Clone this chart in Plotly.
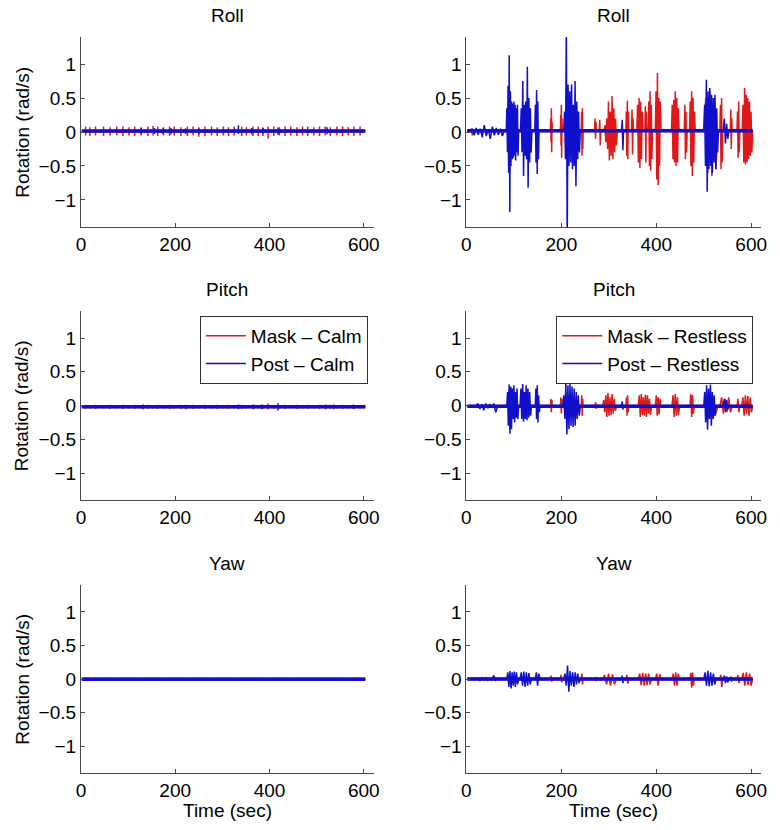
import numpy as np
import plotly.graph_objects as go

# ---------------- data ----------------
RED = "#e01818"
BLUE = "#1010cc"
FONT = "Liberation Sans, Arial, Helvetica, sans-serif"

time_start, time_end = 2, 603
x_ticks = [0, 200, 400, 600]
y_ticks = [-1, -0.5, 0, 0.5, 1]
y_tick_text = ["\u22121", "\u22120.5", "0", "0.5", "1"]
panel_titles = ["Roll", "Roll", "Pitch", "Pitch", "Yaw", "Yaw"]
legend_calm = ["Mask \u2013 Calm", "Post \u2013 Calm"]
legend_restless = ["Mask \u2013 Restless", "Post \u2013 Restless"]

# regular small ticks of the calm recordings (seconds)
calm_tick_t = [10, 19, 31, 48, 62, 76, 89, 102, 114, 128, 142, 153, 163, 175, 188, 198,
               212, 226, 238, 250, 263, 277, 289, 302, 313, 325, 341, 351, 365, 376, 386, 397,
               409, 421, 433, 445, 458, 470, 481, 494, 506, 518, 529, 543, 555, 567, 579, 592]

# ---- Roll, calm
roll_calm_mask_base = 0.01
roll_calm_mask_hi = [0.08, 0.07, 0.08, 0.08, 0.07, 0.08, 0.08, 0.07, 0.08, 0.07, 0.08, 0.09, 0.08, 0.07, 0.08, 0.08,
                     0.07, 0.08, 0.08, 0.07, 0.08, 0.08, 0.07, 0.08, 0.07, 0.08, 0.08, 0.07, 0.08, 0.08, 0.07, 0.08,
                     0.08, 0.07, 0.08, 0.08, 0.07, 0.08, 0.08, 0.07, 0.08, 0.08, 0.07, 0.08, 0.08, 0.07, 0.08, 0.08]
roll_calm_mask_lo = [-0.05, -0.06, -0.05, -0.06, -0.05, -0.05, -0.06, -0.05, -0.06, -0.05, -0.06, -0.05, -0.06, -0.05, -0.06, -0.05,
                     -0.06, -0.06, -0.05, -0.07, -0.06, -0.05, -0.06, -0.05, -0.06, -0.05, -0.06, -0.05, -0.06, -0.06, -0.06, -0.1,
                     -0.06, -0.05, -0.06, -0.05, -0.06, -0.05, -0.06, -0.05, -0.06, -0.05, -0.06, -0.05, -0.06, -0.05, -0.06, -0.05]
roll_calm_post_base = 0.015
roll_calm_post_t = [128, 156, 174, 191, 222, 250, 334, 362, 386, 418, 522]
roll_calm_post_hi = [0.06, 0.06, 0.055, 0.06, 0.055, 0.05, 0.1, 0.06, 0.06, 0.065, 0.07]
roll_calm_post_lo = [-0.03, -0.03, -0.03, -0.035, -0.03, -0.03, -0.03, -0.035, -0.03, -0.04, -0.035]

# ---- Pitch, calm
pitch_calm_mask_base = -0.02
pitch_calm_mask_hi = [0.01, 0.005, 0.01, 0.005, 0.01, 0.005, 0.01, 0.005, 0.01, 0.005, 0.01, 0.005, 0.01, 0.005, 0.01, 0.005,
                      0.01, 0.005, 0.01, 0.005, 0.01, 0.005, 0.01, 0.005, 0.01, 0.005, 0.01, 0.005, 0.01, 0.005, 0.01, 0.03,
                      0.01, 0.005, 0.01, 0.005, 0.01, 0.005, 0.01, 0.005, 0.01, 0.005, 0.01, 0.005, 0.01, 0.005, 0.01, 0.005]
pitch_calm_mask_lo = [-0.05, -0.045, -0.05, -0.045, -0.05, -0.045, -0.05, -0.045, -0.05, -0.045, -0.05, -0.045, -0.05, -0.045, -0.05, -0.045,
                      -0.05, -0.045, -0.05, -0.045, -0.05, -0.045, -0.05, -0.045, -0.05, -0.045, -0.05, -0.045, -0.05, -0.045, -0.05, -0.06,
                      -0.05, -0.045, -0.05, -0.045, -0.05, -0.045, -0.05, -0.045, -0.05, -0.045, -0.05, -0.045, -0.05, -0.045, -0.05, -0.045]
pitch_calm_post_base = -0.02
pitch_calm_post_t = [132, 222, 334, 366, 383, 418, 519, 536, 578]
pitch_calm_post_hi = [0.015, 0.01, 0.015, 0.015, 0.015, 0.035, 0.015, 0.015, 0.01]
pitch_calm_post_lo = [-0.055, -0.055, -0.055, -0.055, -0.055, -0.075, -0.055, -0.055, -0.05]

# ---- Yaw, calm
yaw_calm_mask_base = 0.0
yaw_calm_mask_hi = [0.025, 0.02, 0.025, 0.02, 0.025, 0.02, 0.025, 0.02, 0.025, 0.02, 0.025, 0.02, 0.025, 0.02, 0.025, 0.02,
                    0.025, 0.02, 0.025, 0.02, 0.025, 0.02, 0.025, 0.02, 0.025, 0.02, 0.025, 0.02, 0.025, 0.02, 0.025, 0.02,
                    0.025, 0.02, 0.025, 0.02, 0.025, 0.02, 0.025, 0.02, 0.025, 0.02, 0.025, 0.02, 0.025, 0.02, 0.025, 0.02]
yaw_calm_mask_lo = [-0.025, -0.03, -0.025, -0.03, -0.025, -0.03, -0.025, -0.03, -0.025, -0.03, -0.025, -0.03, -0.025, -0.03, -0.025, -0.03,
                    -0.025, -0.03, -0.025, -0.03, -0.025, -0.03, -0.025, -0.03, -0.025, -0.03, -0.025, -0.03, -0.025, -0.03, -0.025, -0.03,
                    -0.025, -0.03, -0.025, -0.03, -0.025, -0.03, -0.025, -0.03, -0.025, -0.03, -0.025, -0.03, -0.025, -0.03, -0.025, -0.03]
yaw_calm_post_base = -0.005
yaw_calm_post_t = [10, 60, 128, 174, 222, 300, 334, 386, 418, 470, 522, 580]
yaw_calm_post_hi = [0.02, 0.015, 0.02, 0.015, 0.02, 0.015, 0.02, 0.015, 0.02, 0.015, 0.02, 0.015]
yaw_calm_post_lo = [-0.03, -0.025, -0.03, -0.025, -0.03, -0.025, -0.03, -0.025, -0.03, -0.025, -0.03, -0.025]

# ---- Roll, restless  (bursts: start s, end s, successive sample values)
roll_rest_mask_base = 0.02
roll_rest_mask_bursts = [
    (9, 16, [0.05, -0.05, 0.04]),
    (177, 181, [0.2, -0.15, 0.35, -0.3, 0.15]),
    (198, 202, [0.25, -0.2, 0.4, -0.38, 0.2]),
    (242, 246, [0.3, -0.35, 0.35, -0.25]),
    (270, 274, [0.2, -0.1, 0.15]),
    (280, 283, [0.18, -0.2]),
    (290, 318, [0.1, -0.15, 0.2, -0.25, 0.45, -0.42, 0.3, -0.35, 0.53, -0.4, 0.35, -0.3, 0.2, -0.2]),
    (336, 342, [0.3, -0.35, 0.46, -0.4, 0.3]),
    (348, 352, [0.33, -0.33, 0.2]),
    (359, 372, [0.4, -0.45, 0.5, -0.53, 0.45, -0.4, 0.3]),
    (376, 380, [0.38, -0.45, 0.3]),
    (383, 392, [0.45, -0.5, 0.6, -0.57, 0.4, -0.4]),
    (398, 410, [0.6, -0.7, 0.87, -0.78, 0.5, -0.5, 0.45]),
    (432, 448, [0.4, -0.4, 0.47, -0.45, 0.6, -0.5, 0.5, -0.45, 0.35]),
    (459, 465, [0.4, -0.4, 0.3, -0.3]),
    (470, 482, [0.45, -0.5, 0.6, -0.65, 0.5, -0.45, 0.3]),
    (500, 530, [0.5, -0.6, 0.6, -0.65, 0.5, -0.55]),
    (534, 540, [0.4, -0.55, 0.5, -0.45]),
    (556, 560, [0.33, -0.25, 0.2]),
    (570, 576, [0.3, -0.38, 0.45, -0.3]),
    (581, 603, [0.4, -0.45, 0.65, -0.48, 0.55, -0.45, 0.5, -0.4, 0.45, -0.35, 0.3, -0.3]),
]
roll_rest_post_base = 0.02
roll_rest_post_bursts = [
    (8, 80, [0.04, -0.05, 0.06, -0.04, 0.05, -0.08, 0.1, -0.06, 0.04, -0.1, 0.08, -0.05, 0.06, -0.04, 0.05, -0.06]),
    (84, 110, [0.35, -0.3, 0.68, -0.6, 1.13, -1.18, 0.6, -0.5, 0.45, -0.4, 0.42, -0.38, 0.45, -0.35, 0.4, -0.42, 0.35, -0.3, 0.4, -0.35]),
    (114, 138, [0.35, -0.3, 0.75, -0.65, 0.4, -0.35, 0.45, -0.4, 0.96, -0.82, 0.5, -0.45, 0.35, -0.3]),
    (144, 153, [0.4, -0.45, 0.62, -0.62, 0.45, -0.4]),
    (205, 240, [0.3, -0.4, 1.6, -1.6, 0.7, -0.5, 0.6, -0.45, 0.7, -0.55, 0.4, -0.5, 0.75, -0.8, 0.45, -0.4, 0.3, -0.3]),
    (327, 331, [0.18, -0.27]),
    (500, 531, [0.4, -0.5, 0.77, -0.88, 0.6, -0.55, 0.65, -0.5, 0.55, -0.6, 0.5, -0.45, 0.55, -0.55, 0.35, -0.3]),
    (541, 553, [0.2, -0.17, 0.12, -0.1]),
]

# ---- Pitch, restless
pitch_rest_mask_base = -0.01
pitch_rest_mask_bursts = [
    (177, 181, [0.1, -0.1, 0.08]),
    (198, 202, [0.12, -0.12, 0.1]),
    (242, 246, [0.15, -0.15, 0.1]),
    (271, 275, [0.05, -0.05]),
    (287, 316, [0.08, -0.1, 0.15, -0.17, 0.19, -0.15, 0.12, -0.14, 0.17, -0.12, 0.1, -0.08]),
    (336, 342, [0.12, -0.15, 0.15, -0.1]),
    (362, 390, [0.15, -0.17, 0.17, -0.14, 0.12, -0.15, 0.16, -0.17, 0.15, -0.12, 0.1, -0.14]),
    (398, 410, [0.15, -0.15, 0.12, -0.13, 0.1]),
    (433, 449, [0.15, -0.17, 0.17, -0.15, 0.12, -0.14]),
    (471, 480, [0.17, -0.17, 0.15, -0.12]),
    (500, 530, [0.15, -0.2, 0.12, -0.15]),
    (534, 560, [0.12, -0.12, 0.1, -0.1, 0.12, -0.1]),
    (570, 576, [0.1, -0.1]),
    (580, 603, [0.12, -0.15, 0.15, -0.13, 0.14, -0.15, 0.12, -0.1]),
]
pitch_rest_post_base = -0.01
pitch_rest_post_bursts = [
    (20, 66, [0.03, -0.05, 0.02, -0.07, 0.03, -0.04, 0.02, -0.03, 0.03, -0.1]),
    (85, 110, [0.2, -0.3, 0.31, -0.42, 0.28, -0.35, 0.25, -0.2, 0.3, -0.25, 0.2, -0.18, 0.25, -0.2]),
    (113, 137, [0.25, -0.2, 0.32, -0.24, 0.2, -0.2, 0.3, -0.22, 0.25, -0.18, 0.2, -0.15]),
    (145, 155, [0.25, -0.2, 0.3, -0.25, 0.15, -0.1]),
    (203, 240, [0.15, -0.2, 0.33, -0.43, 0.3, -0.35, 0.32, -0.3, 0.28, -0.32, 0.25, -0.3, 0.2, -0.2, 0.15, -0.15]),
    (327, 331, [0.06, -0.06]),
    (500, 526, [0.2, -0.25, 0.3, -0.36, 0.25, -0.2, 0.31, -0.3, 0.2, -0.2, 0.15, -0.15]),
    (541, 553, [0.1, -0.1, 0.08, -0.06]),
]

# ---- Yaw, restless
yaw_rest_mask_base = 0.0
yaw_rest_mask_bursts = [
    (177, 181, [0.05, -0.04]),
    (198, 202, [0.06, -0.05]),
    (242, 246, [0.08, -0.08]),
    (271, 275, [0.03, -0.03]),
    (287, 316, [0.06, -0.08, 0.08, -0.1, 0.07, -0.08]),
    (336, 342, [0.06, -0.07]),
    (362, 390, [0.08, -0.09, 0.09, -0.1, 0.08, -0.09, 0.08, -0.08]),
    (398, 410, [0.08, -0.1, 0.07]),
    (433, 449, [0.08, -0.1, 0.1, -0.1, 0.08]),
    (471, 480, [0.09, -0.13, 0.1, -0.1]),
    (534, 540, [0.06, -0.12]),
    (556, 560, [0.04, -0.04]),
    (570, 576, [0.06, -0.06]),
    (580, 603, [0.09, -0.1, 0.1, -0.09, 0.08, -0.1]),
]
yaw_rest_post_base = 0.0
yaw_rest_post_bursts = [
    (20, 66, [0.01, -0.02, 0.02, -0.01, 0.02, -0.02, 0.01, -0.01, 0.05, -0.02]),
    (85, 110, [0.1, -0.12, 0.12, -0.14, 0.1, -0.1, 0.11, -0.12, 0.1, -0.08]),
    (113, 137, [0.1, -0.1, 0.11, -0.12, 0.1, -0.1, 0.09, -0.08]),
    (145, 155, [0.1, -0.1, 0.08]),
    (205, 240, [0.08, -0.1, 0.2, -0.19, 0.12, -0.1, 0.1, -0.12, 0.1, -0.08, 0.08, -0.06]),
    (327, 331, [0.05, -0.06]),
    (500, 526, [0.1, -0.1, 0.12, -0.11, 0.1, -0.1, 0.08, -0.08]),
    (541, 553, [0.05, -0.06, 0.04, -0.05]),
]


# ---------------- build figure ----------------
def build_path(base, bursts=(), tick_t=(), tick_hi=(), tick_lo=()):
    xs, ys = [time_start], [base]
    for t0, t1, vals in bursts:
        ts = np.linspace(t0, t1, len(vals) + 2)[1:-1]
        xs.append(t0); ys.append(base)
        xs.extend(ts.tolist()); ys.extend(vals)
        xs.append(t1); ys.append(base)
    xs.append(time_end); ys.append(base)
    for t, h, l in zip(tick_t, tick_hi, tick_lo):
        xs += [None, t, t]
        ys += [None, h, l]
    return xs, ys


panels = [
    (build_path(roll_calm_mask_base, (), calm_tick_t, roll_calm_mask_hi, roll_calm_mask_lo),
     build_path(roll_calm_post_base, (), roll_calm_post_t, roll_calm_post_hi, roll_calm_post_lo),
     roll_calm_mask_base, roll_calm_post_base),
    (build_path(roll_rest_mask_base, roll_rest_mask_bursts),
     build_path(roll_rest_post_base, roll_rest_post_bursts),
     roll_rest_mask_base, roll_rest_post_base),
    (build_path(pitch_calm_mask_base, (), calm_tick_t, pitch_calm_mask_hi, pitch_calm_mask_lo),
     build_path(pitch_calm_post_base, (), pitch_calm_post_t, pitch_calm_post_hi, pitch_calm_post_lo),
     pitch_calm_mask_base, pitch_calm_post_base),
    (build_path(pitch_rest_mask_base, pitch_rest_mask_bursts),
     build_path(pitch_rest_post_base, pitch_rest_post_bursts),
     pitch_rest_mask_base, pitch_rest_post_base),
    (build_path(yaw_calm_mask_base, (), calm_tick_t, yaw_calm_mask_hi, yaw_calm_mask_lo),
     build_path(yaw_calm_post_base, (), yaw_calm_post_t, yaw_calm_post_hi, yaw_calm_post_lo),
     yaw_calm_mask_base, yaw_calm_post_base),
    (build_path(yaw_rest_mask_base, yaw_rest_mask_bursts),
     build_path(yaw_rest_post_base, yaw_rest_post_bursts),
     yaw_rest_mask_base, yaw_rest_post_base),
]

W, H = 780, 830
x_domains = [[77 / W, 374 / W], [468 / W, 767 / W]]
row_px = [(37, 227), (311, 500), (585, 773)]
y_domains = [[1 - b / H, 1 - t / H] for t, b in row_px]
FS = 19

fig = go.Figure()
axis_style = dict(showline=True, linecolor="#4a4a4a", linewidth=1, ticks="inside", ticklen=4,
                  tickcolor="#4a4a4a", showgrid=False, zeroline=False,
                  tickfont=dict(family=FONT, size=FS, color="black"))
annotations = []

for i, (mask_path, post_path, mb, pb) in enumerate(panels):
    r, c = divmod(i, 2)
    xa = "x" if i == 0 else f"x{i + 1}"
    ya = "y" if i == 0 else f"y{i + 1}"
    leg = "legend" if c == 0 else "legend2"
    names = legend_calm if c == 0 else legend_restless
    show = (r == 1)
    fig.add_trace(go.Scatter(x=mask_path[0], y=mask_path[1], mode="lines", xaxis=xa, yaxis=ya,
                             line=dict(color=RED, width=1.5), name=names[0], showlegend=show,
                             legend=leg, hoverinfo="skip"))
    fig.add_trace(go.Scatter(x=[time_start, time_end], y=[mb, mb], mode="lines", xaxis=xa, yaxis=ya,
                             line=dict(color=RED, width=3), showlegend=False, hoverinfo="skip"))
    fig.add_trace(go.Scatter(x=post_path[0], y=post_path[1], mode="lines", xaxis=xa, yaxis=ya,
                             line=dict(color=BLUE, width=1.5), name=names[1], showlegend=show,
                             legend=leg, hoverinfo="skip"))
    fig.add_trace(go.Scatter(x=[time_start, time_end], y=[pb, pb], mode="lines", xaxis=xa, yaxis=ya,
                             line=dict(color=BLUE, width=3.5), showlegend=False, hoverinfo="skip"))

    xkey = "xaxis" if i == 0 else f"xaxis{i + 1}"
    ykey = "yaxis" if i == 0 else f"yaxis{i + 1}"
    fig.layout[xkey] = dict(domain=x_domains[c], anchor=ya, range=[0, 621], tickvals=x_ticks,
                            ticklabelstandoff=0, **axis_style)
    fig.layout[ykey] = dict(domain=y_domains[r], anchor=xa, range=[-1.4, 1.4], tickvals=y_ticks,
                            ticktext=y_tick_text, ticklabelstandoff=0, **axis_style)

    xc = (x_domains[c][0] + x_domains[c][1]) / 2
    annotations.append(dict(text=panel_titles[i], x=xc, y=y_domains[r][1] + 22 / H, xref="paper", yref="paper",
                            showarrow=False, xanchor="center", yanchor="middle",
                            font=dict(family=FONT, size=FS, color="black")))
    if c == 0:
        yc = (y_domains[r][0] + y_domains[r][1]) / 2
        annotations.append(dict(text="Rotation (rad/s)", x=17 / W, y=yc, xref="paper", yref="paper",
                                textangle=-90, showarrow=False, xanchor="center", yanchor="middle",
                                font=dict(family=FONT, size=FS, color="black")))
    if r == 2:
        annotations.append(dict(text="Time (sec)", x=xc, y=1 - 810 / H, xref="paper", yref="paper",
                                showarrow=False, xanchor="center", yanchor="middle",
                                font=dict(family=FONT, size=FS, color="black")))

legend_style = dict(yanchor="top", xanchor="right", bgcolor="white", bordercolor="#333333", borderwidth=1,
                    font=dict(family=FONT, size=FS, color="black"), tracegroupgap=0,
                    itemwidth=40)
fig.update_layout(
    width=W, height=H, margin=dict(l=0, r=0, t=0, b=0),
    paper_bgcolor="white", plot_bgcolor="white",
    annotations=annotations,
    legend=dict(x=368 / W, y=1 - 316 / H, **legend_style),
    legend2=dict(x=759 / W, y=1 - 316 / H, **legend_style),
    font=dict(family=FONT, size=FS, color="black"),
)

fig.write_html("out.html", config={"displayModeBar": False},
               post_script="document.body.style.margin='0';")
